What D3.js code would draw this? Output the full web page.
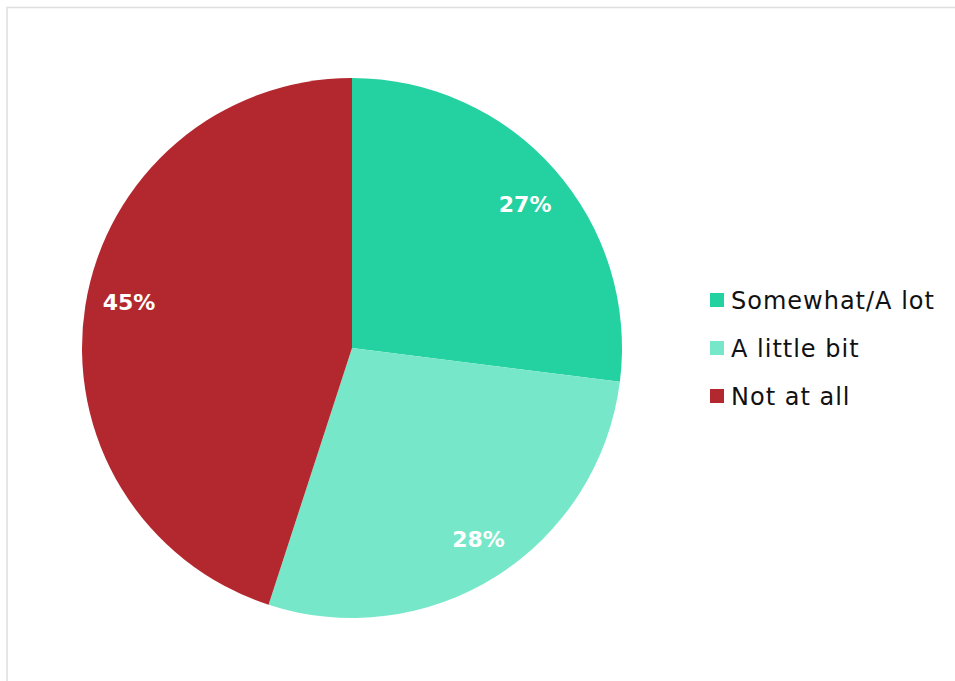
<!DOCTYPE html>
<html><head><meta charset="utf-8">
<script src="https://cdn.jsdelivr.net/npm/d3@7"></script>
<style>body{margin:0;background:#fff}svg{display:block}</style>
</head><body>
<svg id="c" width="955" height="681"></svg>
<script>
const categories = ["Somewhat/A lot", "A little bit", "Not at all"];
const values = [27, 28, 45];
const colors = ["#24d1a0", "#76e8c9", "#b3282e"];

const svg = d3.select("#c");
const font = "'Century Gothic','URW Gothic','DejaVu Sans',sans-serif";
svg.append("rect").attr("x", 7).attr("y", 7.5).attr("width", 960).attr("height", 690)
  .attr("fill", "#fff").attr("stroke", "#dedede").attr("stroke-width", 1.5);

const cx = 352, cy = 348, r = 270;
const pie = d3.pie().sort(null).value(d => d)(values);
const arc = d3.arc().innerRadius(0).outerRadius(r);
const labelArc = d3.arc().innerRadius(r * 0.84).outerRadius(r * 0.84);
const nudge = [[3, 6], [5, 0], [1, -10]];
const g = svg.append("g").attr("transform", `translate(${cx},${cy})`);
g.selectAll("path").data(pie).join("path")
  .attr("d", arc).attr("fill", (d, i) => colors[i]);
g.selectAll("text").data(pie).join("text")
  .attr("transform", (d, i) => { const c = labelArc.centroid(d); return `translate(${c[0] + nudge[i][0]},${c[1] + nudge[i][1]})`; })
  .attr("text-anchor", "middle").attr("dy", "0.36em")
  .attr("fill", "#fff").attr("font-family", font).attr("font-weight", "bold")
  .attr("font-size", 22).text(d => d.data + "%");

const leg = svg.append("g").attr("transform", "translate(710,300)");
const row = leg.selectAll("g").data(categories).join("g")
  .attr("transform", (d, i) => `translate(0,${i * 48})`);
row.append("rect").attr("x", 0).attr("y", -7).attr("width", 14).attr("height", 14)
  .attr("fill", (d, i) => colors[i]);
row.append("text").attr("x", 21).attr("dy", "0.36em").attr("font-family", font)
  .attr("font-size", 24).attr("letter-spacing", 1).attr("fill", "#111").text(d => d);
</script>
</body></html>
